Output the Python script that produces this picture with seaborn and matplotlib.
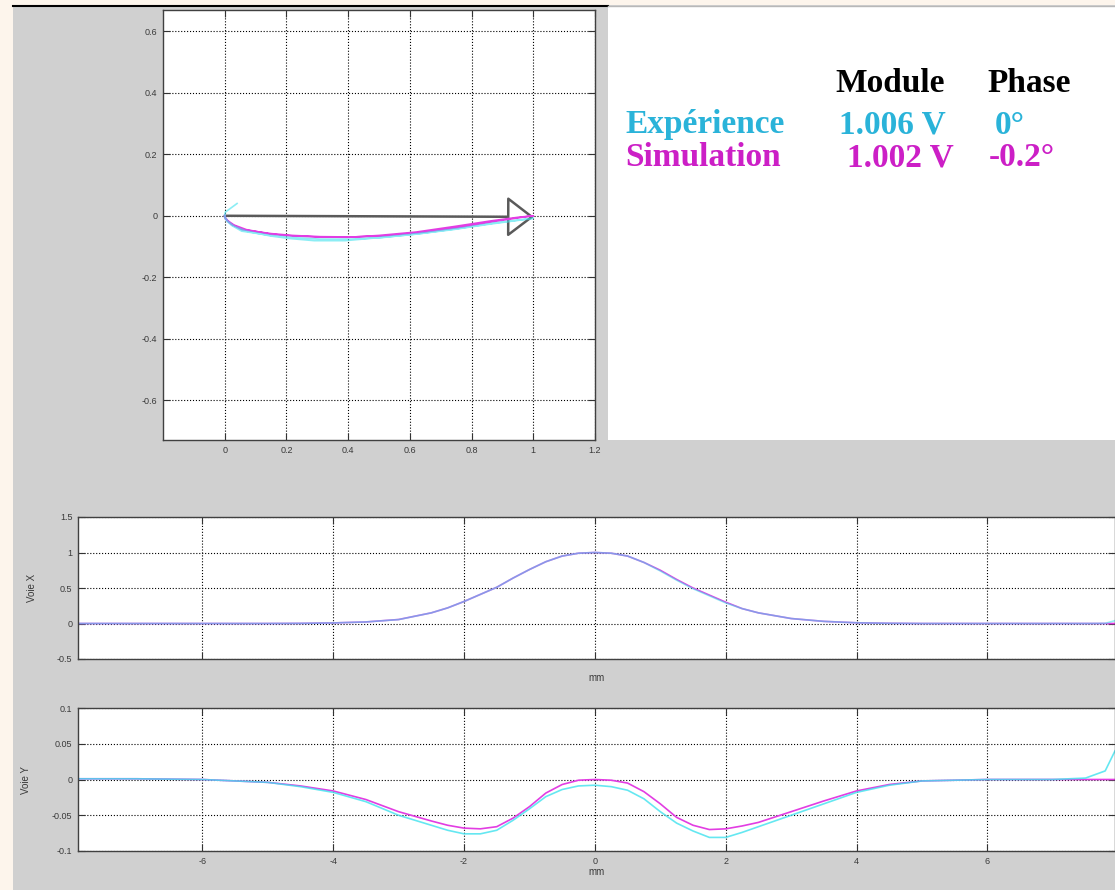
import matplotlib.pyplot as plt
import seaborn as sns
import numpy as np
from matplotlib.patches import Rectangle
from matplotlib.lines import Line2D

# positions le long du balayage (mm)
position_mm = [-7.9, -7, -6, -5, -4.5, -4, -3.5, -3,
               -2.5, -2.25, -2, -1.75, -1.5, -1.25, -1, -0.75, -0.5, -0.25,
               0,
               0.25, 0.5, 0.75, 1, 1.25, 1.5, 1.75, 2, 2.25, 2.5,
               3, 3.5, 4, 4.5, 5, 6, 7, 7.5, 7.8, 7.95]

# voie X (V)
voie_x_exp = [0, 0, 0, 0, 0.002, 0.008, 0.022, 0.055,
              0.15, 0.22, 0.31, 0.41, 0.51, 0.64, 0.76, 0.87, 0.95, 0.99,
              1.0,
              0.99, 0.95, 0.86, 0.74, 0.61, 0.49, 0.39, 0.29, 0.21, 0.15,
              0.07, 0.03, 0.01, 0.003, 0, 0, 0, 0, 0.002, 0.04]
voie_x_sim = [0, 0, 0, 0, 0.002, 0.008, 0.022, 0.056,
              0.15, 0.22, 0.31, 0.41, 0.51, 0.64, 0.76, 0.87, 0.95, 0.99,
              1.0,
              0.99, 0.95, 0.86, 0.75, 0.62, 0.50, 0.40, 0.30, 0.21, 0.15,
              0.07, 0.03, 0.01, 0.003, 0, 0, 0, 0, 0, 0]

# voie Y (V)
voie_y_exp = [0.001, 0.001, 0, -0.004, -0.010, -0.018, -0.031, -0.050,
              -0.064, -0.071, -0.076, -0.076, -0.071, -0.057, -0.041, -0.024, -0.014, -0.009,
              -0.008,
              -0.010, -0.015, -0.027, -0.045, -0.061, -0.072, -0.081, -0.081, -0.074, -0.066,
              -0.050, -0.034, -0.018, -0.008, -0.002, 0, 0, 0.002, 0.012, 0.04]
voie_y_sim = [0.001, 0.001, 0, -0.004, -0.009, -0.016, -0.028, -0.045,
              -0.058, -0.064, -0.068, -0.069, -0.066, -0.054, -0.038, -0.019, -0.007, -0.001,
              0.0,
              -0.001, -0.005, -0.017, -0.034, -0.053, -0.064, -0.070, -0.069, -0.065, -0.060,
              -0.045, -0.030, -0.016, -0.007, -0.002, 0, 0, 0, 0, 0]

# resultats
noms = ['Expérience', 'Simulation']
modules = [1.006, 1.002]
phases = [0, -0.2]

cyan = '#3fe2ee'
magenta = '#e23de2'
cyan_txt = '#2ab3d9'
magenta_txt = '#cc1fc6'
gris = '#d0d0d0'

plt.rcParams['font.family'] = ['Liberation Sans', 'DejaVu Sans']

W, H = 1115, 890
fig = plt.figure(figsize=(W / 100, H / 100), dpi=100, facecolor=gris)


def px_rect(left, top, right, bottom):
    return [left / W, 1 - bottom / H, (right - left) / W, (bottom - top) / H]


# bandes du cadre
fig.add_artist(Rectangle((0, 0), 13 / W, 1, transform=fig.transFigure,
                         fc='#fdf5ec', ec='none'))
fig.add_artist(Rectangle((0, 1 - 5 / H), 1, 5 / H, transform=fig.transFigure,
                         fc='#fdf5ec', ec='none'))
fig.add_artist(Line2D([13 / W, 608 / W], [1 - 5.5 / H] * 2, transform=fig.transFigure,
                      color='black', lw=1.5))
fig.add_artist(Line2D([608 / W, 1], [1 - 5.5 / H] * 2, transform=fig.transFigure,
                      color='#b8b8b8', lw=1))


def style_axes(ax):
    ax.set_facecolor('white')
    ax.grid(True, ls=':', color='black', lw=0.8)
    ax.tick_params(direction='in', length=5, width=0.8, color='#333333',
                   labelsize=6.5, labelcolor='#3a3a3a', top=True, right=True, pad=4)
    for s in ax.spines.values():
        s.set_color('#404040')
        s.set_linewidth(1)


# --- plan complexe
ax0 = fig.add_axes(px_rect(163, 10, 595, 440))
style_axes(ax0)
fin = modules[1] * np.exp(1j * np.deg2rad(phases[1]))
ax0.annotate('', xy=(fin.real, fin.imag), xytext=(0, 0),
             arrowprops=dict(arrowstyle='-|>,head_length=1.7,head_width=1.3',
                             color='#5a5a5a', fc='white', lw=1.8, shrinkA=0, shrinkB=0),
             zorder=2)
sns.lineplot(x=voie_x_sim, y=voie_y_sim, sort=False, estimator=None, color=magenta,
             lw=1.2, ax=ax0, zorder=3)
sns.lineplot(x=voie_x_exp, y=voie_y_exp, sort=False, estimator=None, color=cyan,
             lw=1.2, alpha=0.6, ax=ax0, zorder=4)
ax0.set_xlim(-0.2, 1.2)
ax0.set_ylim(-0.73, 0.67)
ax0.set_xticks([0, 0.2, 0.4, 0.6, 0.8, 1, 1.2])
ax0.set_xticklabels(['0', '0.2', '0.4', '0.6', '0.8', '1', '1.2'])
ax0.set_yticks([-0.6, -0.4, -0.2, 0, 0.2, 0.4, 0.6])
ax0.set_yticklabels(['-0.6', '-0.4', '-0.2', '0', '0.2', '0.4', '0.6'])

# --- tableau des resultats
axt = fig.add_axes(px_rect(608, 7, W, 440))
axt.set_facecolor('white')
axt.set_xticks([])
axt.set_yticks([])
for s in axt.spines.values():
    s.set_visible(False)
serif = dict(family=['Liberation Serif', 'DejaVu Serif'], weight='bold', fontsize=24,
             transform=fig.transFigure, va='center')
fig.text(890 / W, 1 - 83 / H, 'Module', ha='center', color='black', **serif)
fig.text(1029 / W, 1 - 83 / H, 'Phase', ha='center', color='black', **serif)
couleurs_txt = [cyan_txt, magenta_txt]
lignes_y = [125, 158]
col_mod = [892, 900]
col_ph = [1010, 1022]
for nom, mod, ph, c, yy, xm, xp in zip(noms, modules, phases, couleurs_txt, lignes_y,
                                       col_mod, col_ph):
    fig.text(625 / W, 1 - yy / H, nom, ha='left', color=c, **serif)
    fig.text(xm / W, 1 - yy / H, f'{mod:.3f} V', ha='center', color=c, **serif)
    fig.text(xp / W, 1 - yy / H, f'{ph:g}°', ha='center', color=c, **serif)

# --- voie X
ax1 = fig.add_axes(px_rect(78, 517, W, 659))
style_axes(ax1)
sns.lineplot(x=position_mm, y=voie_x_sim, estimator=None, color=magenta, lw=1.2, ax=ax1)
sns.lineplot(x=position_mm, y=voie_x_exp, estimator=None, color=cyan, lw=1.2, alpha=0.55, ax=ax1)
ax1.set_xlim(-7.9, 7.95)
ax1.set_ylim(-0.5, 1.5)
ax1.set_xticks([-6, -4, -2, 0, 2, 4, 6])
ax1.set_xticklabels([])
ax1.set_yticks([-0.5, 0, 0.5, 1, 1.5])
ax1.set_yticklabels(['-0.5', '0', '0.5', '1', '1.5'])
ax1.set_xlabel('mm', fontsize=7, color='#3a3a3a', labelpad=6)
ax1.set_ylabel('Voie X', fontsize=7, color='#3a3a3a')
ax1.yaxis.set_label_coords(-0.04, 0.5)

# --- voie Y
ax2 = fig.add_axes(px_rect(78, 708, W, 851))
style_axes(ax2)
sns.lineplot(x=position_mm, y=voie_y_sim, estimator=None, color=magenta, lw=1.2, ax=ax2)
sns.lineplot(x=position_mm, y=voie_y_exp, estimator=None, color=cyan, lw=1.2, alpha=0.8, ax=ax2)
ax2.set_xlim(-7.9, 7.95)
ax2.set_ylim(-0.1, 0.1)
ax2.set_xticks([-6, -4, -2, 0, 2, 4, 6])
ax2.set_xticklabels(['-6', '-4', '-2', '0', '2', '4', '6'])
ax2.set_yticks([-0.1, -0.05, 0, 0.05, 0.1])
ax2.set_yticklabels(['-0.1', '-0.05', '0', '0.05', '0.1'])
ax2.set_xlabel('mm', fontsize=7, color='#3a3a3a', labelpad=1)
ax2.set_ylabel('Voie Y', fontsize=7, color='#3a3a3a')
ax2.yaxis.set_label_coords(-0.045, 0.5)

fig.savefig('out.png', dpi=100, facecolor=gris)
